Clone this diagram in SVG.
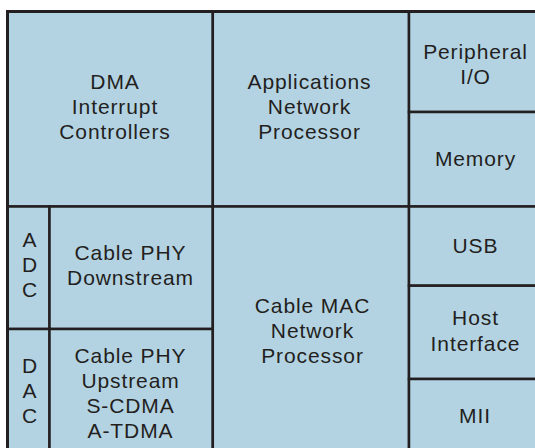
<svg xmlns="http://www.w3.org/2000/svg" width="535" height="448" viewBox="0 0 535 448">
<style>
.n{fill:#b3d3e3;stroke:#231f20;stroke-width:2.5}
.t{font-family:"Liberation Sans",Arial,sans-serif;font-size:21px;letter-spacing:0.9px;fill:#231f20;text-anchor:middle}
.f{fill:none;stroke:#231f20;stroke-width:3}
</style>
<rect x="0" y="0" width="535" height="448" fill="#ffffff"/>
<g id="dma"><rect class="n" x="7.5" y="11.5" width="205.3" height="195"/>
<text class="t"><tspan x="115" y="89">DMA</tspan><tspan x="115" y="114">Interrupt</tspan><tspan x="115" y="139">Controllers</tspan></text></g>
<g id="app"><rect class="n" x="212.8" y="11.5" width="196.2" height="195"/>
<text class="t"><tspan x="309.5" y="89">Applications</tspan><tspan x="309.5" y="114">Network</tspan><tspan x="309.5" y="139">Processor</tspan></text></g>
<g id="periph"><rect class="n" x="409" y="11.5" width="131" height="100.5"/>
<text class="t"><tspan x="475.5" y="58.5">Peripheral</tspan><tspan x="475.5" y="83.5">I/O</tspan></text></g>
<g id="memory"><rect class="n" x="409" y="112" width="131" height="94.5"/>
<text class="t" x="475.5" y="165.5">Memory</text></g>
<g id="adc"><rect class="n" x="7.5" y="206.5" width="42" height="122.5"/>
<text class="t"><tspan x="30" y="246.5">A</tspan><tspan x="30" y="271.5">D</tspan><tspan x="30" y="296.5">C</tspan></text></g>
<g id="phy-down"><rect class="n" x="49.5" y="206.5" width="163.3" height="122.5"/>
<text class="t"><tspan x="130.5" y="259.5">Cable PHY</tspan><tspan x="130.5" y="285">Downstream</tspan></text></g>
<g id="dac"><rect class="n" x="7.5" y="329" width="42" height="123"/>
<text class="t"><tspan x="30" y="372.5">D</tspan><tspan x="30" y="397.5">A</tspan><tspan x="30" y="422.5">C</tspan></text></g>
<g id="phy-up"><rect class="n" x="49.5" y="329" width="163.3" height="123"/>
<text class="t"><tspan x="130.5" y="362.5">Cable PHY</tspan><tspan x="130.5" y="387.5">Upstream</tspan><tspan x="130.5" y="412.5">S-CDMA</tspan><tspan x="130.5" y="438">A-TDMA</tspan></text></g>
<g id="mac"><rect class="n" x="212.8" y="206.5" width="196.2" height="245.5"/>
<text class="t"><tspan x="312.5" y="312.5">Cable MAC</tspan><tspan x="312.5" y="337.5">Network</tspan><tspan x="312.5" y="363">Processor</tspan></text></g>
<g id="usb"><rect class="n" x="409" y="206.5" width="131" height="79.2"/>
<text class="t" x="475.5" y="252.5">USB</text></g>
<g id="host"><rect class="n" x="409" y="285.7" width="131" height="93.3"/>
<text class="t"><tspan x="475.5" y="325">Host</tspan><tspan x="475.5" y="351">Interface</tspan></text></g>
<g id="mii"><rect class="n" x="409" y="379" width="131" height="73"/>
<text class="t" x="475" y="422.5">MII</text></g>
<g id="frame"><path class="f" d="M7.5,452 V11.5 H540"/></g>
</svg>
